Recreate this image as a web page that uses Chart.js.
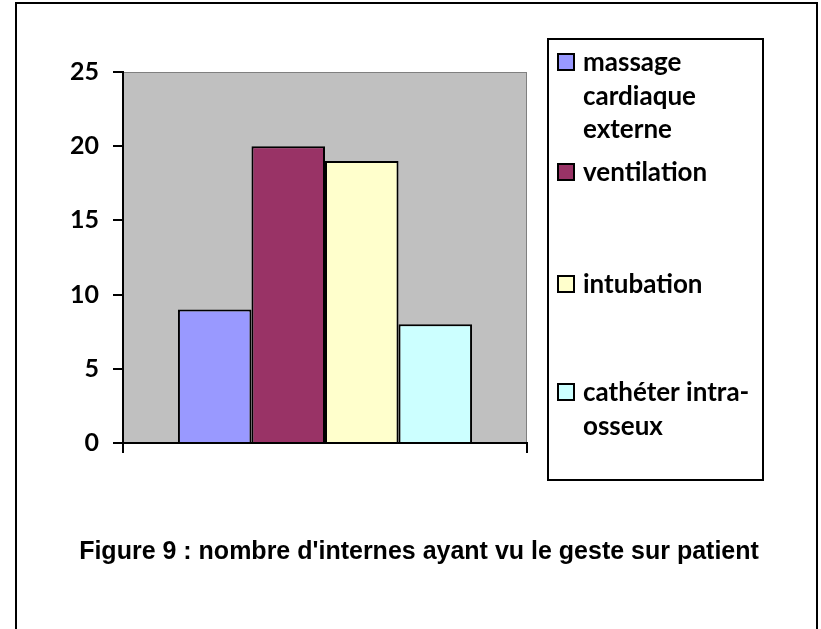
<!DOCTYPE html>
<html>
<head>
<meta charset="utf-8">
<script src="https://cdn.jsdelivr.net/npm/chart.js@4/dist/chart.umd.min.js"></script>
<style>
  html, body { margin: 0; padding: 0; background: #fff; }
  #wrap { width: 821px; height: 629px; position: relative; }
</style>
</head>
<body>
<div id="wrap"><canvas id="gestes" width="821" height="629"></canvas></div>
<script>
const categories = ['']
const seriesNames = [
  ['massage', 'cardiaque', 'externe'],
  ['ventilation'],
  ['intubation'],
  ['cathéter intra-', 'osseux']
]
const seriesValues = [[9], [20], [19], [8]]
const seriesColors = ['#9999FF', '#993366', '#FFFFCC', '#CCFFFF']
const yTicks = [0, 5, 10, 15, 20, 25]
const titleText = "Figure 9 : nombre d'internes ayant vu le geste sur patient"

const labelFont = 'Lato'

// frame + plot background
const backdrop = {
  id: 'backdrop',
  beforeDraw(chart) {
    const ctx = chart.ctx
    ctx.save()
    ctx.strokeStyle = '#000'
    ctx.lineWidth = 2
    ctx.beginPath()
    ctx.moveTo(16, 629)
    ctx.lineTo(16, 3)
    ctx.lineTo(817, 3)
    ctx.lineTo(817, 629)
    ctx.stroke()
    const a = chart.chartArea
    ctx.fillStyle = '#C0C0C0'
    ctx.fillRect(a.left, a.top, a.right - a.left, a.bottom - a.top)
    ctx.strokeStyle = '#808080'
    ctx.lineWidth = 1
    ctx.strokeRect(a.left + 0.5, a.top + 0.5, a.right - a.left - 1, a.bottom - a.top - 1)
    ctx.restore()
  }
}

// excel style legend box on the right, plus caption under the chart
const sideLegend = {
  id: 'sideLegend',
  afterDraw(chart) {
    const ctx = chart.ctx
    ctx.save()
    ctx.strokeStyle = '#000'
    ctx.lineWidth = 2
    ctx.strokeRect(548, 39, 215, 441)

    const rows = [63, 173, 285, 393] // first line of each entry
    const lineGap = 33.5
    ctx.font = 'bold 26px ' + labelFont
    ctx.textBaseline = 'middle'
    ctx.textAlign = 'left'
    chart.data.datasets.forEach((ds, i) => {
      const y = rows[i]
      ctx.fillStyle = ds.backgroundColor
      ctx.fillRect(558, y - 9, 16, 16)
      ctx.strokeStyle = '#000'
      ctx.lineWidth = 2
      ctx.strokeRect(558, y - 9, 16, 16)
      ctx.fillStyle = '#000'
      seriesNames[i].forEach((line, j) => {
        ctx.fillText(line, 583, y + j * lineGap)
      })
    })

    ctx.font = 'bold 25px "Liberation Sans", Arial'
    ctx.textAlign = 'center'
    ctx.fillText(titleText, 419, 552)
    ctx.restore()
  }
}

new Chart(document.getElementById('gestes'), {
  type: 'bar',
  data: {
    labels: categories,
    datasets: seriesNames.map((name, i) => ({
      label: name.join(' '),
      data: seriesValues[i],
      backgroundColor: seriesColors[i],
      borderColor: '#000',
      borderWidth: 2,
      categoryPercentage: 0.728,
      barPercentage: 1
    }))
  },
  options: {
    responsive: false,
    animation: false,
    layout: { padding: { top: 72, right: 294, bottom: 0, left: 0 } },
    plugins: {
      legend: { display: false },
      tooltip: { enabled: false }
    },
    scales: {
      x: {
        grid: { drawOnChartArea: false, color: '#000', lineWidth: 2, tickLength: 10 },
        border: { color: '#000', width: 2 },
        ticks: { display: true },
        afterFit: s => { s.height = 186 }
      },
      y: {
        min: 0,
        max: 25,
        afterBuildTicks: s => { s.ticks = yTicks.map(v => ({ value: v })) },
        grid: { drawOnChartArea: false, color: '#000', lineWidth: 2, tickLength: 10 },
        border: { color: '#000', width: 2 },
        ticks: {
          color: '#000',
          padding: 14,
          font: { family: labelFont, size: 25, weight: 'bold' }
        },
        afterFit: s => { s.width = 123 }
      }
    }
  },
  plugins: [backdrop, sideLegend]
});
</script>
</body>
</html>
